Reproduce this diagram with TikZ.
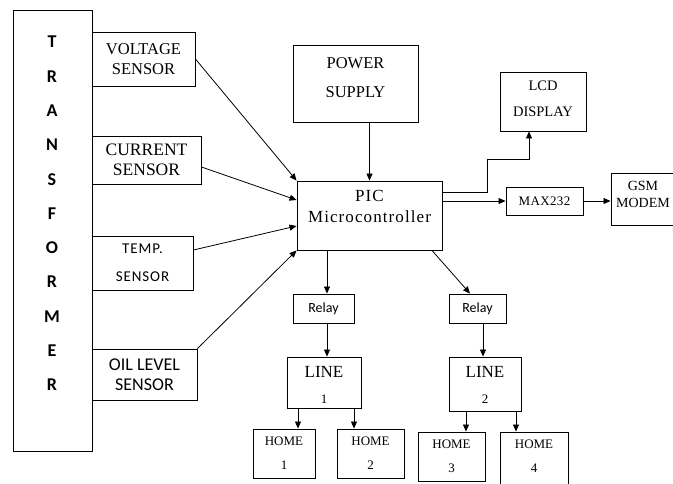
\documentclass[tikz,border=0pt]{standalone}
\usepackage{fontspec}
\setmainfont{Liberation Serif}
\newfontfamily\calfont{Carlito}
\usetikzlibrary{arrows.meta}
\begin{document}
\begin{tikzpicture}[x=1pt,y=-1pt,
  box/.style={draw, line width=0.9pt, inner sep=0pt, align=center},
  arr/.style={-{Triangle[length=7pt,width=6pt]}, line width=0.8pt},
  txt/.style={inner sep=0pt, align=center}]
\useasboundingbox (0,0) rectangle (673,483);
\clip (0,0) rectangle (673,483);
% transformer
\node[box, minimum width=79, minimum height=441] (trans) at (52.5,230.5) {};
\node[txt, font=\calfont\bfseries\fontsize{18}{34.3}\selectfont] (transtxt) at (52,213.5) {T\\R\\A\\N\\S\\F\\O\\R\\M\\E\\R};
% sensors
\node[box, minimum width=103, minimum height=54, font=\fontsize{16.5}{20}\selectfont] (volt) at (143.5,59) {VOLTAGE\\SENSOR};
\node[box, minimum width=109, minimum height=48, font=\fontsize{17.5}{20}\selectfont] (curr) at (146.5,160) {CURRENT\\SENSOR};
\node[box, minimum width=101, minimum height=54, font=\calfont\addfontfeatures{LetterSpace=6}\fontsize{15}{28}\selectfont] (temp) at (142.5,263) {TEMP.\\SENSOR};
\node[box, minimum width=105, minimum height=51, font=\calfont\fontsize{18}{20}\selectfont] (oil) at (144.5,374.5) {OIL LEVEL\\SENSOR};
% PIC
\node[box, minimum width=145, minimum height=69] (pic) at (369.5,215.5) {};
\node[txt, font=\addfontfeatures{LetterSpace=6.4}\fontsize{17}{21}\selectfont] (pictxt) at (369.5,206.5) {PIC\\Microcontroller};
% power
\node[box, minimum width=125, minimum height=77] (power) at (355.5,83.5) {};
\node[txt, font=\fontsize{16.5}{29}\selectfont] (powertxt) at (355.5,77.5) {POWER\\SUPPLY};
% LCD
\node[box, minimum width=86, minimum height=59] (lcd) at (543,101.5) {};
\node[txt, font=\fontsize{14.5}{26}\selectfont] (lcdtxt) at (543,99) {LCD\\DISPLAY};
% MAX232
\node[box, minimum width=77, minimum height=28, font=\addfontfeatures{LetterSpace=3}\fontsize{13}{16}\selectfont] (max) at (544.5,201) {MAX232};
% GSM
\node[box, minimum width=65, minimum height=52] (gsm) at (643.5,199) {};
\node[txt, font=\fontsize{14}{17}\selectfont] (gsmtxt) at (643,194.5) {GSM\\MODEM};
% relays
\node[box, minimum width=61, minimum height=29, font=\calfont\fontsize{14}{16}\selectfont] (relayA) at (323.5,308.5) {Relay};
\node[box, minimum width=57, minimum height=29, font=\calfont\fontsize{14}{16}\selectfont] (relayB) at (477.5,308.5) {Relay};
% lines
\node[box, minimum width=74, minimum height=51] (lineA) at (324,382.5) {};
\node[txt, font=\fontsize{17}{26}\selectfont] (lineAtxt) at (324,385) {LINE\\{\fontsize{13}{26}\selectfont 1}};
\node[box, minimum width=72, minimum height=54] (lineB) at (485,384) {};
\node[txt, font=\fontsize{17}{26}\selectfont] (lineBtxt) at (485,385) {LINE\\{\fontsize{13}{26}\selectfont 2}};
% homes
\node[box, minimum width=62, minimum height=49, font=\fontsize{13}{24}\selectfont] (homeA) at (284,453.5) {HOME\\1};
\node[box, minimum width=67, minimum height=49, font=\fontsize{13}{24}\selectfont] (homeB) at (370.5,453.5) {HOME\\2};
\node[box, minimum width=67, minimum height=49, font=\fontsize{13}{24}\selectfont] (homeC) at (451.5,456.5) {HOME\\3};
\node[box, minimum width=68, minimum height=58] (homeD) at (534,461) {};
\node[txt, font=\fontsize{13}{24}\selectfont] (homeDtxt) at (534,456) {HOME\\4};
% connectors
\draw[arr] (volt.east) -- (pic.north west);
\draw[arr] ([yshift=-7pt]curr.east) -- ([yshift=15.5pt]pic.west);
\draw[arr] ([yshift=13pt]temp.east) -- ([yshift=-10.5pt]pic.west);
\draw[arr] (oil.north east) -- (pic.south west);
\draw[arr] (power.south -| pic.north) -- (pic.north);
\draw[arr] ([yshift=23.5pt]pic.east) -| (487,159) -| ([xshift=-14pt]lcd.south);
\draw[arr] (pic.east |- max.west) -- (max.west);
\draw[arr] (max.east) -- (gsm.west |- max.east);
\draw[arr] ([xshift=3.5pt]relayA.north |- pic.south) -- ([xshift=3.5pt]relayA.north);
\draw[arr] ([xshift=62.5pt]pic.south) -- ([xshift=-7.5pt]relayB.north);
\draw[arr] ([xshift=3pt]lineA.north |- relayA.south) -- ([xshift=3pt]lineA.north);
\draw[arr] ([xshift=-2pt]lineB.north |- relayB.south) -- ([xshift=-2pt]lineB.north);
\draw[arr] ([xshift=14pt]homeA.north |- lineA.south) -- ([xshift=14pt]homeA.north);
\draw[arr] ([xshift=-16.5pt]homeB.north |- lineA.south) -- ([xshift=-16.5pt]homeB.north);
\draw[arr] ([xshift=14.5pt]homeC.north |- lineB.south) -- ([xshift=14.5pt]homeC.north);
\draw[arr] ([xshift=-18pt]homeD.north |- lineB.south) -- ([xshift=-18pt]homeD.north);
\end{tikzpicture}
\end{document}
